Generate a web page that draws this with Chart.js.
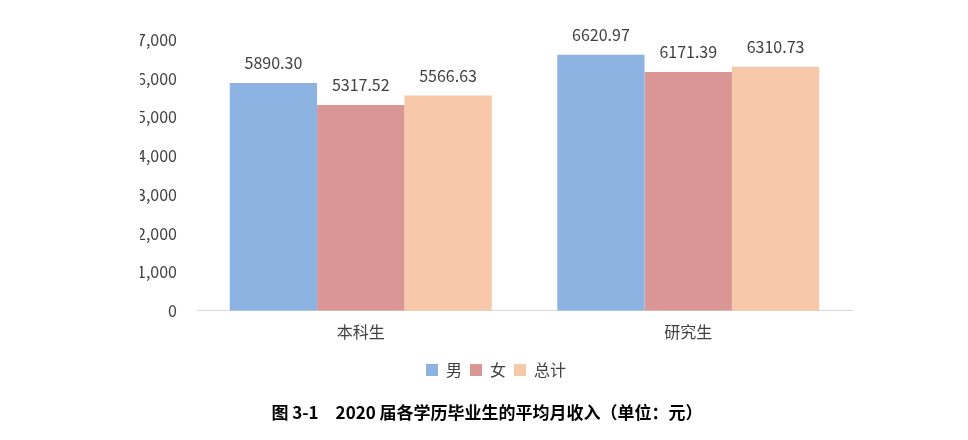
<!DOCTYPE html>
<html><head><meta charset="utf-8">
<script src="https://cdn.jsdelivr.net/npm/chart.js@4"></script>
<style>body{margin:0;background:#fff}#wrap{width:968px;height:440px}</style>
</head><body><div id="wrap"><canvas id="c"></canvas></div>
<script>
const categories = ['本科生', '研究生'];
const seriesNames = ['男', '女', '总计'];
const maleIncome = [5890.30, 6620.97];
const femaleIncome = [5317.52, 6171.39];
const totalIncome = [5566.63, 6310.73];
const colors = ['#8db3e2', '#d99694', '#f7c8a9'];
const titleText = '图 3-1　2020 届各学历毕业生的平均月收入（单位：元）';
const font = '"Noto Sans CJK SC", "Noto Sans", sans-serif';

const labelPlugin = {
    id: 'labels',
    afterDatasetsDraw(chart) {
        const ctx = chart.ctx;
        ctx.save();
        ctx.font = '16px ' + font;
        ctx.fillStyle = '#404040';
        ctx.textAlign = 'center';
        ctx.textBaseline = 'bottom';
        chart.data.datasets.forEach((ds, i) => {
            chart.getDatasetMeta(i).data.forEach((bar, j) => {
                ctx.fillText(ds.data[j].toFixed(2), bar.x, bar.y - 12);
            });
        });
        ctx.font = 'bold 17px ' + font;
        ctx.fillStyle = '#000';
        ctx.textBaseline = 'middle';
        ctx.fillText(titleText, 487, 413);
        ctx.restore();
    }
};

new Chart(document.getElementById('c'), {
    type: 'bar',
    data: {
        labels: categories,
        datasets: [
            { label: seriesNames[0], data: maleIncome, backgroundColor: colors[0] },
            { label: seriesNames[1], data: femaleIncome, backgroundColor: colors[1] },
            { label: seriesNames[2], data: totalIncome, backgroundColor: colors[2] }
        ]
    },
    options: {
        responsive: true,
        maintainAspectRatio: false,
        animation: false,
        layout: { padding: { left: 140, right: 116, top: 40, bottom: 52 } },
        datasets: { bar: { categoryPercentage: 0.8, barPercentage: 1.0 } },
        scales: {
            x: {
                grid: { display: false, drawTicks: false },
                border: { color: '#d9d9d9' },
                ticks: { color: '#404040', font: { size: 16, family: font }, padding: 12 }
            },
            y: {
                min: 0, max: 7000,
                ticks: { stepSize: 1000, color: '#404040', font: { size: 16, family: font }, padding: 12 },
                grid: { display: false },
                border: { display: false },
                afterFit(s) { s.width = 57; }
            }
        },
        plugins: {
            legend: {
                position: 'bottom',
                labels: { boxWidth: 12, boxHeight: 12, color: '#404040', font: { size: 16, family: font }, padding: 8 }
            },
            tooltip: { enabled: false }
        }
    },
    plugins: [labelPlugin]
});
</script></body></html>
